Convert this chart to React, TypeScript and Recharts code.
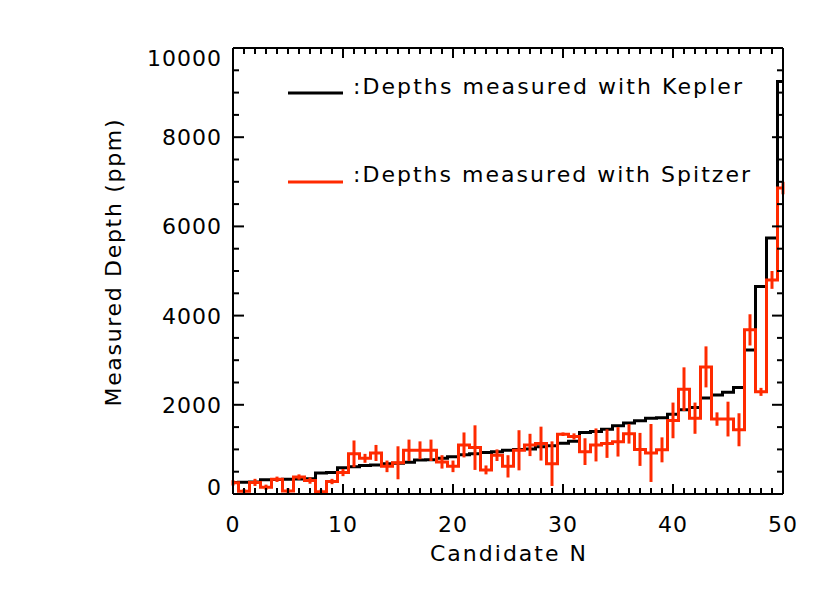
import { ComposedChart, ErrorBar, Line, XAxis, YAxis } from 'recharts'

// candidate index along x
const candidates = [
  0, 1, 2, 3, 4, 5, 6, 7, 8, 9,
  10, 11, 12, 13, 14, 15, 16, 17, 18, 19,
  20, 21, 22, 23, 24, 25, 26, 27, 28, 29,
  30, 31, 32, 33, 34, 35, 36, 37, 38, 39,
  40, 41, 42, 43, 44, 45, 46, 47, 48, 49, 50,
]

// ppm
const keplerDepth = [
  260, 265, 270, 320, 325, 330, 335, 340, 470, 480,
  590, 610, 640, 650, 680, 690, 710, 760, 770, 800,
  838, 880, 900, 930, 950, 980, 1000, 1010, 1060, 1080,
  1140, 1180, 1380, 1400, 1450, 1530, 1590, 1640, 1700, 1710,
  1790, 1890, 1940, 2150, 2220, 2280, 2390, 3230, 4650, 5740, 9250,
]

const spitzerDepth = [
  250, 60, 260, 150, 330, 70, 380, 300, 50, 280,
  480, 900, 800, 920, 620, 700, 980, 980, 980, 720,
  620, 1100, 1040, 540, 870, 620, 980, 1100, 1130, 680,
  1340, 1290, 950, 1100, 1130, 1170, 1350, 1000, 920, 990,
  1650, 2350, 1700, 2850, 1680, 1680, 1440, 3680, 2290, 4800, 6860,
]

const spitzerErr = [
  60, 50, 80, 60, 60, 60, 60, 70, 50, 60,
  80, 300, 100, 180, 130, 370, 240, 200, 240, 150,
  130, 280, 500, 100, 130, 250, 450, 250, 380, 500,
  40, 70, 300, 370, 320, 330, 220, 370, 650, 280,
  400, 490, 350, 460, 150, 390, 370, 350, 90, 200, 140,
]

const xTicks = candidates
const yTicks = [
  0, 500, 1000, 1500, 2000, 2500, 3000, 3500, 4000, 4500,
  5000, 5500, 6000, 6500, 7000, 7500, 8000, 8500, 9000, 9500, 10000,
]

const data = candidates.map((n, i) => ({
  n,
  kepler: keplerDepth[i],
  spitzer: spitzerDepth[i],
  err: spitzerErr[i],
}))

const W = 830
const H = 593
const PLOT = { left: 233, top: 48, right: 783, bottom: 494 }
const X_MAX = 50
const Y_MAX = 10000

const RED = '#ff2a00'
const FONT = '"DejaVu Sans", sans-serif'
const axisLine = { stroke: '#000', strokeWidth: 2 }

// same linear mapping the chart uses, only for the inward IDL-style box ticks
const px = (v: number) => PLOT.left + (v / X_MAX) * (PLOT.right - PLOT.left)
const py = (v: number) => PLOT.bottom - (v / Y_MAX) * (PLOT.bottom - PLOT.top)

const BottomLabel = ({ x, y, payload }: any) =>
  payload.value % 10 === 0 ? (
    <text x={x} y={y + 38} textAnchor="middle" fontSize={22} fontFamily={FONT} letterSpacing={1} fill="#000">
      {payload.value}
    </text>
  ) : (
    <g />
  )

const LeftLabel = ({ x, y, payload }: any) => {
  const v = payload.value
  if (v % 2000 !== 0) return <g />
  // IDL nudges the end labels inward
  const dy = v === 0 ? 1 : v === Y_MAX ? 18 : 8
  return (
    <text x={x - 11} y={y + dy} textAnchor="end" fontSize={22} fontFamily={FONT} letterSpacing={1} fill="#000">
      {v}
    </text>
  )
}

const BoxTicks = () => (
  <g stroke="#000" strokeWidth={2}>
    {xTicks.map(v => {
      const len = v % 10 === 0 ? 10 : 6
      const x = px(v)
      return (
        <g key={`x${v}`}>
          <line x1={x} x2={x} y1={PLOT.bottom} y2={PLOT.bottom - len} />
          <line x1={x} x2={x} y1={PLOT.top} y2={PLOT.top + len} />
        </g>
      )
    })}
    {yTicks.map(v => {
      const len = v % 2000 === 0 ? 11 : 6
      const y = py(v)
      return (
        <g key={`y${v}`}>
          <line x1={PLOT.left} x2={PLOT.left + len} y1={y} y2={y} />
          <line x1={PLOT.right} x2={PLOT.right - len} y1={y} y2={y} />
        </g>
      )
    })}
  </g>
)

export default function App() {
  return (
    <div style={{ position: 'absolute', left: 0, top: 0, width: W, height: H, background: '#fff' }}>
      <ComposedChart
        width={W}
        height={H}
        data={data}
        margin={{ top: PLOT.top - 1, right: W - PLOT.right - 1, bottom: 0, left: 0 }}
      >
        <XAxis
          xAxisId="b"
          dataKey="n"
          type="number"
          domain={[0, X_MAX]}
          ticks={xTicks}
          interval={0}
          tick={BottomLabel}
          tickLine={false}
          tickSize={0}
          tickMargin={0}
          height={H - PLOT.bottom}
          axisLine={axisLine}
        />
        <XAxis
          xAxisId="t"
          orientation="top"
          dataKey="n"
          type="number"
          domain={[0, X_MAX]}
          tick={false}
          tickLine={false}
          height={1}
          axisLine={axisLine}
        />
        <YAxis
          yAxisId="l"
          type="number"
          domain={[0, Y_MAX]}
          ticks={yTicks}
          interval={0}
          tick={LeftLabel}
          tickLine={false}
          tickSize={0}
          tickMargin={0}
          width={PLOT.left}
          axisLine={axisLine}
        />
        <YAxis
          yAxisId="r"
          orientation="right"
          type="number"
          domain={[0, Y_MAX]}
          tick={false}
          tickLine={false}
          width={1}
          axisLine={axisLine}
        />
        <Line
          xAxisId="b"
          yAxisId="l"
          type="step"
          dataKey="kepler"
          stroke="#000"
          strokeWidth={3}
          dot={false}
          isAnimationActive={false}
        />
        <Line
          xAxisId="b"
          yAxisId="l"
          type="step"
          dataKey="spitzer"
          stroke={RED}
          strokeWidth={3}
          dot={false}
          isAnimationActive={false}
        >
          <ErrorBar dataKey="err" direction="y" width={0} stroke={RED} strokeWidth={3} isAnimationActive={false} />
        </Line>
      </ComposedChart>
      <svg
        width={W}
        height={H}
        style={{ position: 'absolute', left: 0, top: 0, pointerEvents: 'none' }}
        fontFamily={FONT}
        fontSize={22}
      >
        <BoxTicks />
        <line x1={288} x2={343} y1={93} y2={93} stroke="#000" strokeWidth={3} />
        <text x={353} y={94} textLength={389} lengthAdjust="spacing" fill="#000">
          :Depths measured with Kepler
        </text>
        <line x1={288} x2={343} y1={182} y2={182} stroke={RED} strokeWidth={3} />
        <text x={353} y={182} textLength={397} lengthAdjust="spacing" fill="#000">
          :Depths measured with Spitzer
        </text>
        <text x={508} y={561} textAnchor="middle" textLength={156} lengthAdjust="spacing" fill="#000">
          Candidate N
        </text>
        <text
          x={121}
          y={263}
          transform="rotate(-90 121 263)"
          textAnchor="middle"
          textLength={287}
          lengthAdjust="spacing"
          fill="#000"
        >
          Measured Depth (ppm)
        </text>
      </svg>
    </div>
  )
}
